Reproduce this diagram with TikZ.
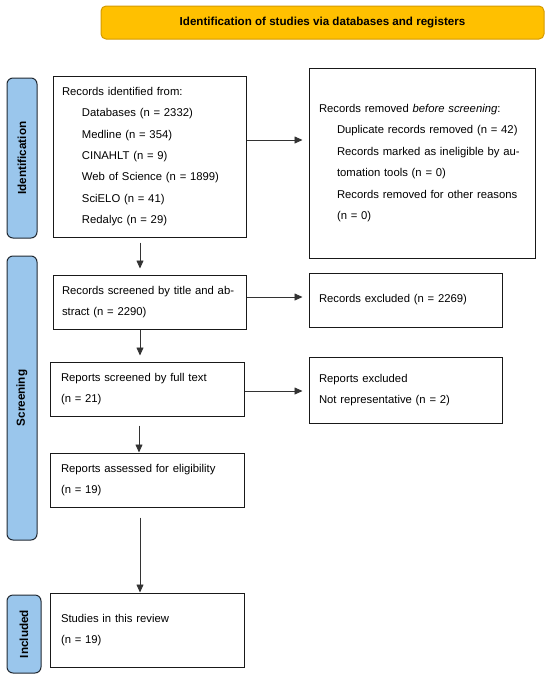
\documentclass[tikz,border=0pt]{standalone}
\usepackage{fontspec}
\setmainfont{Liberation Sans}
\usetikzlibrary{arrows.meta}
\definecolor{bannerfill}{HTML}{FFC000}
\definecolor{bannerdraw}{HTML}{D49A00}
\definecolor{labfill}{HTML}{9AC6EC}
\definecolor{labdraw}{HTML}{222A33}
\begin{document}
\begin{tikzpicture}[x=1pt,y=-1pt,
  txt/.style={font=\fontsize{11.3}{21.4}\selectfont},
  box/.style={txt, draw=black!90, line width=1pt, fill=white, inner xsep=9pt, inner ysep=0pt, align=left},
  banner/.style={draw=bannerdraw, line width=1pt, fill=bannerfill, rounded corners=5pt, inner sep=0pt, font=\fontsize{11.6}{14}\selectfont\bfseries},
  lab/.style={draw=labdraw, line width=1pt, fill=labfill, rounded corners=6pt, inner sep=0pt, rotate=90, font=\fontsize{11.7}{14}\selectfont\bfseries},
  arr/.style={draw=black!80, line width=0.8pt, -{Triangle[length=8pt,width=7pt]}}
]
\useasboundingbox (0,0) rectangle (550,678);

\node[banner, minimum width=443pt, minimum height=33pt] (banner) at (322.5,22.5) {Identification of studies via databases and registers};

\node[lab, minimum width=160pt, minimum height=30pt] (idlab) at (22,158) {Identification};
\node[lab, minimum width=284pt, minimum height=30pt] (scrlab) at (22,398) {Screening};
\node[lab, minimum width=78pt, minimum height=34pt] (inclab) at (24,634) {Included};

\node[box, minimum width=193pt, minimum height=161pt, text width=175pt] (ident) at (149.5,156.5)
 {\mbox{Records identified from:}\\
  \mbox{\hspace*{20pt}Databases (n = 2332)}\\
  \mbox{\hspace*{20pt}Medline (n = 354)}\\
  \mbox{\hspace*{20pt}CINAHLT (n = 9)}\\
  \mbox{\hspace*{20pt}Web of Science (n = 1899)}\\
  \mbox{\hspace*{20pt}SciELO (n = 41)}\\
  \mbox{\hspace*{20pt}Redalyc (n = 29)}};

\node[box, minimum width=226pt, minimum height=190pt, text width=206pt] (removed) at (422,163)
 {\mbox{Records removed \textit{before screening}:}\\
  \mbox{\hspace*{18pt}Duplicate records removed (n = 42)}\\
  \mbox{\hspace*{18pt}Records marked as ineligible by au-}\\
  \mbox{\hspace*{18pt}tomation tools (n = 0)}\\
  \mbox{\hspace*{18pt}Records removed for other reasons}\\
  \mbox{\hspace*{18pt}(n = 0)}};

\node[box, minimum width=193pt, minimum height=54pt, text width=175pt] (screened) at (149.5,302)
 {\mbox{Records screened by title and ab-}\\\mbox{stract (n = 2290)}};

\node[box, minimum width=193pt, minimum height=54pt, text width=173pt] (excluded) at (405.5,300)
 {\mbox{Records excluded (n = 2269)}};

\node[box, minimum width=194pt, minimum height=54pt, text width=172pt] (fulltext) at (147,389)
 {\mbox{Reports screened by full text}\\\mbox{(n = 21)}};

\node[box, minimum width=193pt, minimum height=66pt, text width=173pt] (repexcl) at (405.5,390)
 {\mbox{Reports excluded}\\\mbox{Not representative (n = 2)}};

\node[box, minimum width=194pt, minimum height=54pt, text width=172pt] (assessed) at (147,480)
 {\mbox{Reports assessed for eligibility}\\\mbox{(n = 19)}};

\node[box, minimum width=194pt, minimum height=74pt, text width=172pt] (studies) at (147,630)
 {\mbox{Studies in this review}\\\mbox{(n = 19)}};

\draw[arr, shorten >=6pt] ([yshift=16.5pt]ident.east) -- ([yshift=16.5pt]ident.east -| removed.west);
\draw[arr, shorten <=5pt, shorten >=6pt] ([xshift=-9.5pt]ident.south) -- ([xshift=-9.5pt]ident.south |- screened.north);
\draw[arr, shorten >=6pt] ([yshift=5pt]screened.east) -- ([yshift=5pt]screened.east -| excluded.west);
\draw[arr, shorten >=6pt] ([xshift=-9.5pt]screened.south) -- ([xshift=-9.5pt]screened.south |- fulltext.north);
\draw[arr, shorten >=6pt] ([yshift=-2pt]fulltext.east) -- ([yshift=-2pt]fulltext.east -| repexcl.west);
\draw[arr, shorten <=9pt] ([xshift=-8pt]fulltext.south) -- ([xshift=-8pt]fulltext.south |- assessed.north);
\draw[arr, shorten <=10pt] ([xshift=-7pt]assessed.south) -- ([xshift=-7pt]assessed.south |- studies.north);
\end{tikzpicture}
\end{document}
